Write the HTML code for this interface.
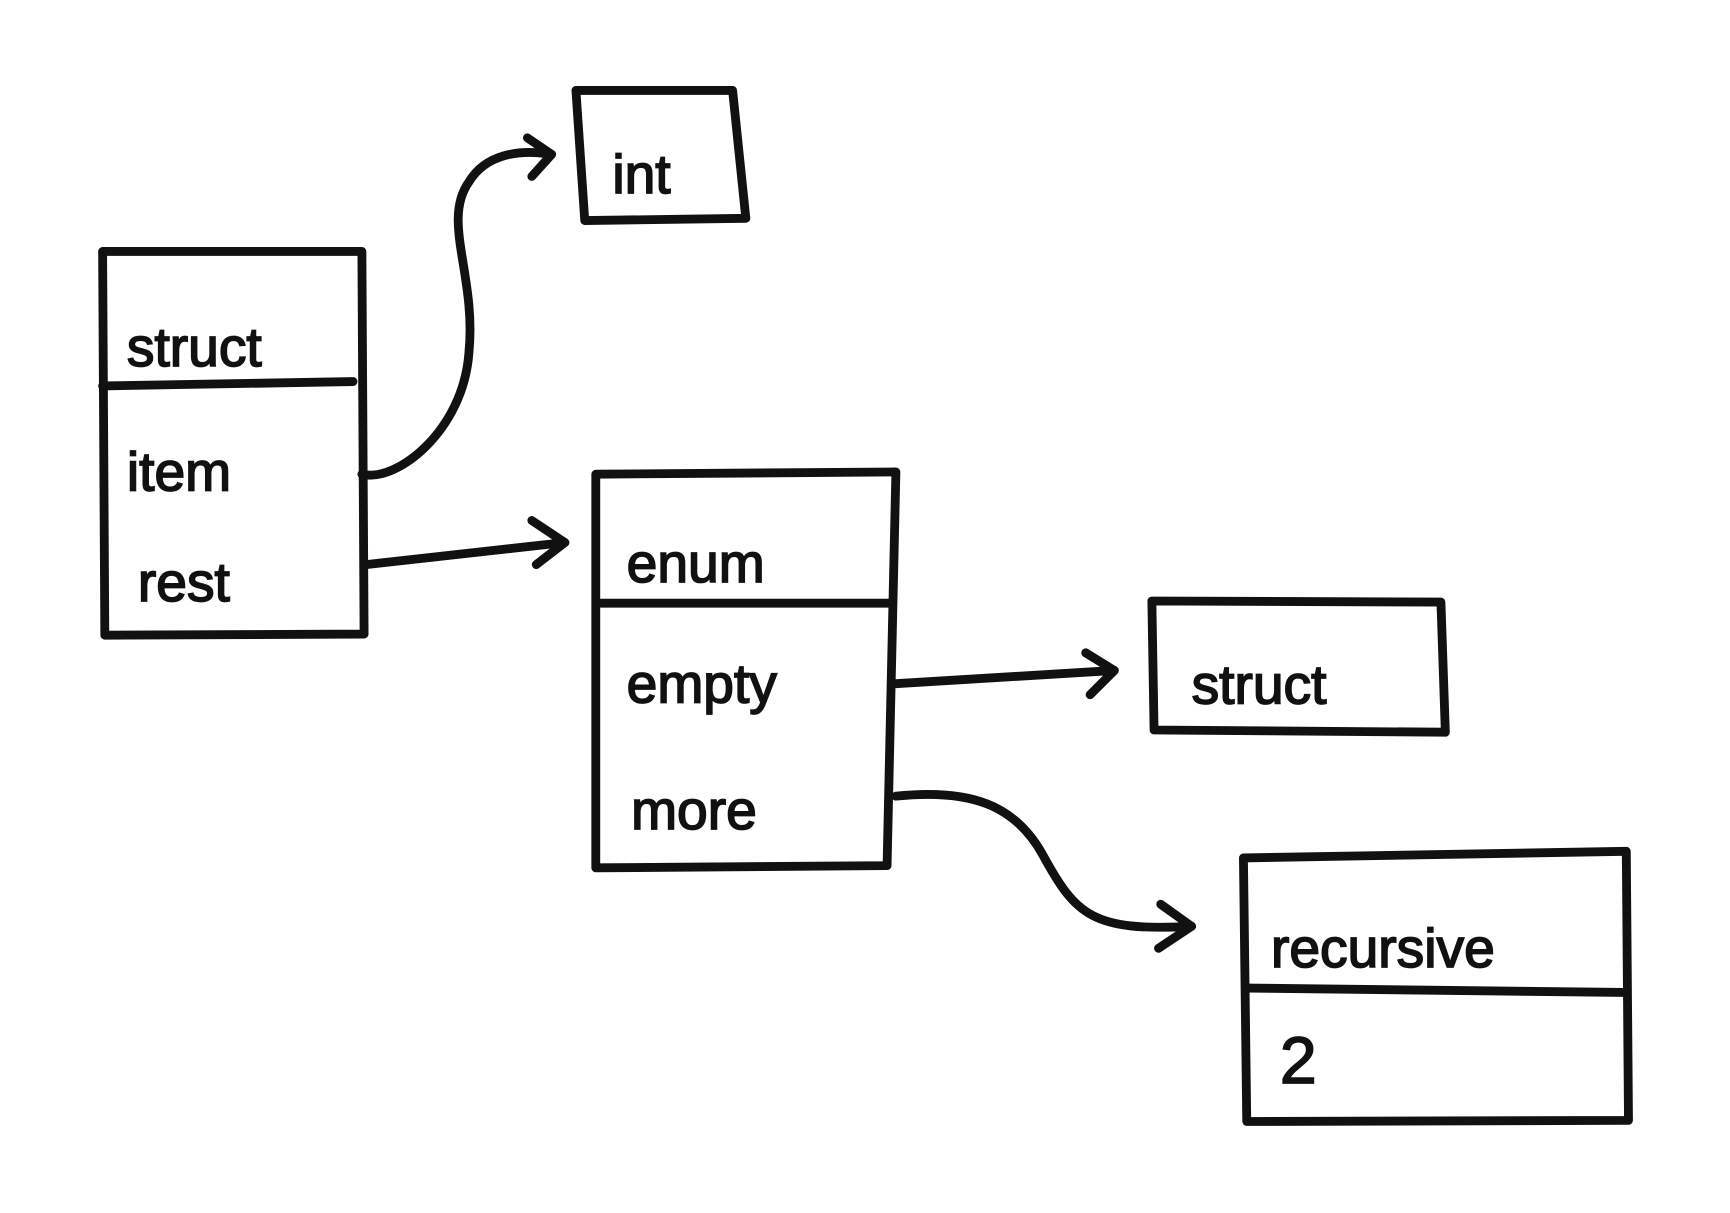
<!DOCTYPE html>
<html><head><meta charset="utf-8"><style>
html,body{margin:0;padding:0;background:#fff;width:1730px;height:1213px;overflow:hidden}
svg{display:block}
text{font-family:"Liberation Sans",sans-serif;font-size:50px;fill:#111;stroke:#111;stroke-width:1.5}
</style></head><body>
<svg width="1730" height="1213" viewBox="0 0 1568 1100" preserveAspectRatio="none">
<g fill="none" stroke="#111" stroke-width="8" stroke-linecap="round" stroke-linejoin="round">
<path d="M522,82 L664,82 L676,198 L530,200 Z"/>
<path d="M93,228 L328,228 L330,575 L95,576 Z"/>
<path d="M93,350 L320,346"/>
<path d="M540,430 L812,428 L804,785 L540,787 Z"/>
<path d="M540,547 L806,547"/>
<path d="M1044,545 L1306,546 L1310,664 L1046,662 Z"/>
<path d="M1127,778 L1474,772 L1476,1016 L1130,1017 Z"/>
<path d="M1130,896 L1472,900"/>
<path d="M328,430 C360,438 420,390 425,320 C432,250 400,200 425,165 C440,140 470,135 500,140"/>
<path d="M478,125 L500,140 L482,160"/>
<path d="M332,512 L512,492"/>
<path d="M482,472 L512,492 L486,512"/>
<path d="M812,620 L1010,608"/>
<path d="M984,592 L1010,608 L988,630"/>
<path d="M812,722 C880,715 920,730 945,775 C975,830 990,845 1080,840"/>
<path d="M1052,820 L1080,840 L1050,860"/>
</g>
<text x="115" y="332">struct</text>
<text x="115" y="445">item</text>
<text x="125" y="545">rest</text>
<text x="555" y="175">int</text>
<text x="568" y="528">enum</text>
<text x="568" y="637">empty</text>
<text x="572" y="752">more</text>
<text x="1080" y="638">struct</text>
<text x="1152" y="877">recursive</text>
<text x="1160" y="982" style="font-size:60px">2</text>
</svg>
</body></html>
